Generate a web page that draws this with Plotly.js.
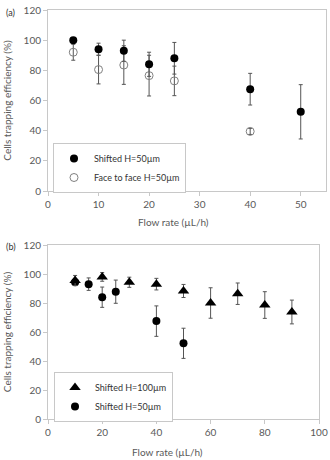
<!DOCTYPE html>
<html><head><meta charset="utf-8">
<script src="https://cdn.plot.ly/plotly-3.0.1.min.js"></script>
<style>html,body{margin:0;padding:0;background:#fff}#c{width:330px;height:460px}</style>
</head><body><div id="c"></div>
<script>
// Panel (a)
const aShiftX = [5, 10, 15, 20, 25, 40, 50];
const aShiftY = [100, 94, 93, 84, 88, 67.5, 52.5];
const aShiftErr = [0, 4, 7, 8, 10.5, 10.5, 18];
const aFaceX = [5, 10, 15, 20, 25, 40];
const aFaceY = [92, 80.5, 83.5, 76.5, 73, 39.5];
const aFaceErr = [5.3, 9.5, 12.8, 13.5, 9.8, 2];
// Panel (b)
const b100X = [10, 20, 30, 40, 50, 60, 70, 80, 90];
const b100Y = [95.5, 98, 94.3, 93, 88.3, 80, 86.4, 78.6, 73.8];
const b100Err = [3.5, 3, 3.5, 4, 4.5, 10.5, 7.4, 9.2, 8.2];
const b50X = [10, 15, 20, 25, 40, 50];
const b50Y = [94.3, 93, 84, 87.8, 67.5, 52.2];
const b50Err = [2, 4.3, 7, 8, 10.5, 10.4];

const names = {a1:'Shifted H=50µm', a2:'Face to face H=50µm', b1:'Shifted H=100µm', b2:'Shifted H=50µm'};
const xTitle = 'Flow rate (µL/h)';
const yTitle = 'Cells trapping efficiency (%)';
const FONT = 'Lato, "Open Sans", sans-serif';
const GREY = '#595959';
const err = (a) => ({type:'data', array:a, visible:true, color:'#555555', thickness:1, width:2});

const traces = [
  {x:aFaceX, y:aFaceY, error_y:err(aFaceErr), mode:'markers', name:names.a2, xaxis:'x', yaxis:'y', legend:'legend',
   marker:{symbol:'circle-open', size:8, color:'#808080', line:{width:1, color:'#808080'}}, legendrank:2},
  {x:aShiftX, y:aShiftY, error_y:err(aShiftErr), mode:'markers', name:names.a1, xaxis:'x', yaxis:'y', legend:'legend',
   marker:{symbol:'circle', size:8, color:'#000'}, legendrank:1},
  {x:b50X, y:b50Y, error_y:err(b50Err), mode:'markers', name:names.b2, xaxis:'x2', yaxis:'y2', legend:'legend2',
   marker:{symbol:'circle', size:8, color:'#000'}, legendrank:2},
  {x:b100X, y:b100Y, error_y:err(b100Err), mode:'markers', name:names.b1, xaxis:'x2', yaxis:'y2', legend:'legend2',
   marker:{symbol:'triangle-up', size:10, color:'#000'}, legendrank:1}
];

const ax = (extra) => Object.assign({
  showline:true, linecolor:'#c8c8c8', linewidth:1, mirror:true, showgrid:false, zeroline:false,
  ticks:'outside', ticklen:4, tickcolor:'#c8c8c8', tickfont:{family:FONT, size:10, color:GREY}
}, extra);

const legendBase = {bgcolor:'#fff', bordercolor:'#c8c8c8', borderwidth:1, font:{family:FONT, size:9, color:'#333'},
  xanchor:'left', yanchor:'top', itemwidth:30, traceorder:'normal'};

const titleFont = {family:FONT, size:10, color:GREY};

const layout = {
  width:330, height:460, margin:{l:0, r:0, t:0, b:0}, paper_bgcolor:'#fff', plot_bgcolor:'#fff',
  showlegend:true,
  xaxis: ax({domain:[48/330, 326/330], range:[0,55], dtick:10, anchor:'y'}),
  yaxis: ax({domain:[1-191/460, 1-10/460], range:[0,120], dtick:20, anchor:'x',
    title:{text:yTitle, font:titleFont, standoff:10}}),
  xaxis2: ax({domain:[48/330, 319/330], range:[0,100], dtick:20, anchor:'y2'}),
  yaxis2: ax({domain:[1-419/460, 1-245/460], range:[0,120], dtick:20, anchor:'x2',
    title:{text:yTitle, font:titleFont, standoff:10}}),
  legend: Object.assign({}, legendBase, {x:53/330, y:1-143/460}),
  legend2: Object.assign({}, legendBase, {x:54/330, y:1-372/460}),
  annotations:[
    {text:'(a)', xref:'paper', yref:'paper', x:4/330, y:1-5/460, xanchor:'left', yanchor:'top', showarrow:false,
     font:{family:FONT, size:9, color:'#333'}},
    {text:'(b)', xref:'paper', yref:'paper', x:4/330, y:1-239/460, xanchor:'left', yanchor:'top', showarrow:false,
     font:{family:FONT, size:9, color:'#333'}},
    {text:xTitle, xref:'paper', yref:'paper', x:174/330, y:1-222/460, xanchor:'center', yanchor:'middle', showarrow:false,
     font:titleFont},
    {text:xTitle, xref:'paper', yref:'paper', x:168/330, y:1-452/460, xanchor:'center', yanchor:'middle', showarrow:false,
     font:titleFont}
  ]
};
Plotly.newPlot('c', traces, layout, {staticPlot:true, displayModeBar:false});
</script></body></html>
